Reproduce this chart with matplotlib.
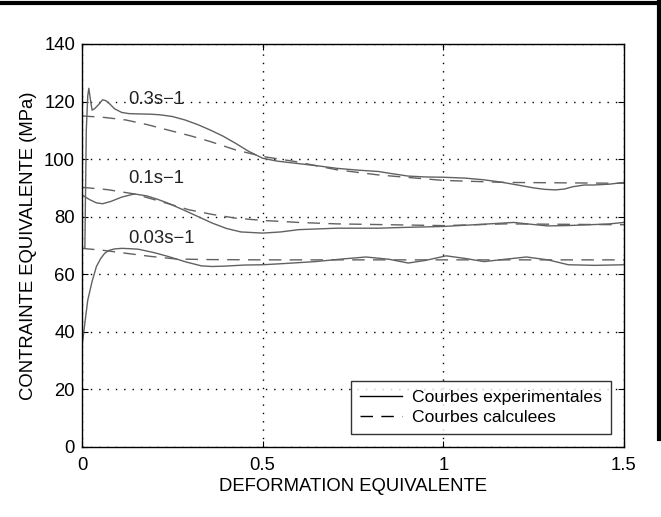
import numpy as np
import matplotlib
matplotlib.use("Agg")
import matplotlib.pyplot as plt
from matplotlib.lines import Line2D

plt.rcParams['font.family'] = ['Liberation Sans', 'DejaVu Sans']

x_exp_03 = [0.008, 0.012, 0.016, 0.019, 0.023, 0.028, 0.035, 0.045, 0.057, 0.066, 0.075, 0.09,
            0.11, 0.13, 0.156, 0.19, 0.215, 0.25, 0.285, 0.32, 0.355, 0.39, 0.425, 0.46, 0.5,
            0.54, 0.588, 0.65, 0.705, 0.76, 0.82, 0.86, 0.903, 0.95, 1.0, 1.06, 1.113, 1.16,
            1.206, 1.25, 1.28, 1.31, 1.335, 1.358, 1.39, 1.416, 1.46, 1.5]
y_exp_03 = [69, 110, 122, 124.6, 121, 117, 117.5, 118.8, 120.6, 120.3, 119.4, 117.5,
            116.2, 115.8, 115.7, 115.6, 115.4, 114.8, 113.6, 112, 110.1, 108, 105.5, 102.8, 100.3,
            99.3, 98.6, 97.7, 96.8, 96.2, 95.7, 94.9, 94.1, 93.8, 93.7, 93.4, 92.8, 92,
            91, 90, 89.5, 89.3, 89.6, 90.4, 91, 91, 91.3, 91.9]

x_exp_01 = [0, 0.02, 0.04, 0.057, 0.08, 0.11, 0.145, 0.18, 0.21, 0.238, 0.28, 0.32, 0.36,
            0.4, 0.44, 0.5, 0.55, 0.6, 0.705, 0.82, 0.9, 1.0, 1.1, 1.195, 1.24, 1.288, 1.34,
            1.405, 1.46, 1.5]
y_exp_01 = [87.6, 86, 84.8, 84.5, 85.3, 86.8, 87.9, 87.2, 86, 84.7, 82.4, 80.1, 77.8,
            75.9, 74.7, 74.3, 74.7, 75.5, 76, 76, 76.3, 76.6, 77.3, 78, 77.4, 76.8, 76.9,
            77.2, 77.5, 78]

x_exp_003 = [0, 0.008, 0.016, 0.028, 0.04, 0.052, 0.063, 0.075, 0.09, 0.11, 0.13, 0.156,
             0.2, 0.238, 0.29, 0.331, 0.36, 0.39, 0.45, 0.5, 0.57, 0.646, 0.72, 0.786, 0.85,
             0.903, 0.95, 1.008, 1.06, 1.113, 1.17, 1.23, 1.29, 1.346, 1.42, 1.5]
y_exp_003 = [34.9, 43, 51, 57.5, 62.7, 65.5, 67.3, 68.3, 68.8, 69, 68.9, 68.7,
             67.5, 66.2, 64.2, 62.9, 62.7, 62.8, 63.2, 63.3, 63.8, 64.4, 65.3, 66, 65.2,
             63.9, 64.8, 66.4, 65.5, 64.4, 65.2, 66, 65, 63.3, 63.1, 63.3]

# calculated curves
x_calc_03 = [0, 0.06, 0.121, 0.18, 0.238, 0.3, 0.355, 0.425, 0.5, 0.588, 0.705, 0.82, 1.0,
             1.171, 1.5]
y_calc_03 = [115, 114.5, 113.6, 112, 110.1, 108.1, 106.1, 103.2, 100.9, 99.2, 96.3, 94.5, 92.6,
             91.9, 91.6]

x_calc_01 = [0, 0.07, 0.145, 0.22, 0.296, 0.36, 0.425, 0.5, 0.6, 0.705, 1.0, 1.171, 1.5]
y_calc_01 = [90.2, 89.4, 87.9, 85.2, 82.4, 80.8, 79.5, 78.7, 78, 77.5, 76.9, 77.5, 77.2]

x_calc_003 = [0, 0.06, 0.121, 0.19, 0.261, 0.35, 0.5, 1.5]
y_calc_003 = [69, 68.3, 67.3, 66.2, 65.3, 65.1, 65, 65]

labels = ["0.3s\u22121", "0.1s\u22121", "0.03s\u22121"]
label_y = [120.6, 93.4, 72.5]

GREY = (0.38, 0.38, 0.38)

fig = plt.figure(figsize=(6.61, 5.17), dpi=100)
ax = fig.add_axes([0.124, 0.1354, 0.82, 0.7796])

exp_sets = [(x_exp_03, y_exp_03), (x_exp_01, y_exp_01), (x_exp_003, y_exp_003)]
calc_sets = [(x_calc_03, y_calc_03), (x_calc_01, y_calc_01), (x_calc_003, y_calc_003)]

for i, (xs, ys) in enumerate(exp_sets):
    ax.plot(xs, ys, color=GREY, lw=1.0, ls='-',
            label='Courbes experimentales' if i == 0 else None)
for i, (xs, ys) in enumerate(calc_sets):
    ax.plot(xs, ys, color=GREY, lw=1.0, ls=(0, (9, 6)),
            label='Courbes calculees' if i == 0 else None)

for lab, yy in zip(labels, label_y):
    ax.text(0.128, yy, lab, fontsize=13.3, va='center', ha='left', color='#222222')

ax.set_xlim(0, 1.5)
ax.set_ylim(0, 140)
ax.set_xticks([0, 0.5, 1, 1.5])
ax.set_xticklabels(['0', '0.5', '1', '1.5'])
ax.set_yticks(np.arange(0, 141, 20))
ax.grid(True, color='black', ls=(0, (1, 5)), lw=1.0)
ax.tick_params(direction='in', top=True, right=True, labelsize=13.3, length=4)
ax.tick_params(axis='x', pad=7)
ax.tick_params(axis='y', pad=5)
for sp in ax.spines.values():
    sp.set_linewidth(1.0)

ax.set_xlabel('DEFORMATION EQUIVALENTE', fontsize=13.3, labelpad=3)
ax.set_ylabel('CONTRAINTE EQUIVALENTE (MPa)', fontsize=13.3, labelpad=5)

leg = ax.legend(loc='lower right', fontsize=12.6, frameon=True, fancybox=False,
                handlelength=2.4, handletextpad=0.6, borderaxespad=0.75,
                labelspacing=0.25, borderpad=0.5)
leg.get_frame().set_edgecolor('black')
leg.get_frame().set_linewidth(1.0)
for h in leg.get_lines():
    h.set_color('black')

# page border
fig.add_artist(Line2D([0, 1], [0.995, 0.995], transform=fig.transFigure, color='black', lw=3))
fig.add_artist(Line2D([0.997, 0.997], [0.15, 1.0], transform=fig.transFigure, color='black', lw=3))

fig.savefig('out.png', dpi=100)
